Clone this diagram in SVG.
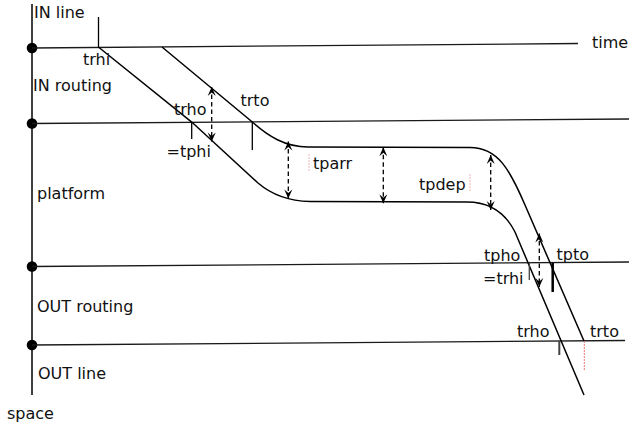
<svg xmlns="http://www.w3.org/2000/svg" width="629" height="425" viewBox="0 0 629 425">
<defs>
<style>
.ax{stroke:#000;stroke-width:1.5;fill:none}
.zl{stroke:#1a1a1a;stroke-width:1.3;fill:none}
.tr{stroke:#000;stroke-width:1.5;fill:none}
.tk{stroke:#000;stroke-width:1.3}
.tkg{stroke:#444;stroke-width:1.3}
.dim{stroke:#000;stroke-width:1.3;stroke-dasharray:4.5 3;fill:none;marker-start:url(#ah);marker-end:url(#ah)}
.pk{stroke:#e66;stroke-width:0.8;stroke-dasharray:2 1;opacity:0.6}
.dot{fill:#000}
text{font-family:"DejaVu Sans","Liberation Sans",sans-serif;font-size:16px;fill:#111}
</style>
<marker id="ah" viewBox="-10 -5 11 10" refX="0" refY="0" markerWidth="11" markerHeight="10" markerUnits="userSpaceOnUse" orient="auto-start-reverse">
<path d="M0,0 L-9,-4 L-5.5,0 L-9,4 z" fill="#000"/>
</marker>
</defs>
<g id="axis">
<line class="ax" x1="32" y1="4" x2="32" y2="395"/>
<circle class="dot" cx="32" cy="48" r="5.3"/>
<circle class="dot" cx="32" cy="123.5" r="5.3"/>
<circle class="dot" cx="32" cy="266.5" r="5.3"/>
<circle class="dot" cx="32" cy="345" r="5.3"/>
</g>
<g id="zones">
<line class="zl" x1="32" y1="48" x2="578" y2="43.5"/>
<line class="zl" x1="32" y1="123.5" x2="629" y2="119"/>
<line class="zl" x1="32" y1="266.5" x2="629" y2="262"/>
<line class="zl" x1="32" y1="345" x2="625" y2="340.5"/>
</g>
<g id="trains">
<path class="tr" d="M99,47.5 L192,122.3 L258,183 C272,195 288,201 310,201.5 L467,202 C490,202 505,212 515,232 L584,395"/>
<path class="tr" d="M162,47 L252.3,122 C268,136 285,147 308,147 L470,147.5 C498,147.5 510,170 525,205 L584,341"/>
</g>
<g id="ticks">
<line class="tk" x1="98.5" y1="17" x2="98.5" y2="48"/>
<line class="tk" x1="191.7" y1="122.3" x2="191.7" y2="139"/>
<line class="tk" x1="252.3" y1="122" x2="252.3" y2="150"/>
<line class="tkg" x1="529.3" y1="263" x2="529.3" y2="280"/>
<line class="tk" x1="552.7" y1="263" x2="552.7" y2="292" style="stroke-width:2.5"/>
<line class="tkg" x1="559.3" y1="341" x2="559.3" y2="355" style="stroke-width:2"/>
<line class="pk" x1="584.3" y1="341" x2="584.3" y2="371" style="opacity:0.9;stroke-width:1"/>
<line class="pk" x1="309" y1="154" x2="309" y2="171"/>
<line class="pk" x1="470" y1="174" x2="470" y2="192"/>
</g>
<g id="connectors">
<line class="dim" x1="211.7" y1="87" x2="211.7" y2="141.5"/>
<line class="dim" x1="288.3" y1="141.5" x2="288.3" y2="198.5"/>
<line class="dim" x1="383.3" y1="147.3" x2="383.3" y2="203.3"/>
<line class="dim" x1="490.7" y1="155" x2="490.7" y2="210"/>
<line class="dim" x1="539.3" y1="233.5" x2="539.3" y2="287"/>
</g>
<g id="labels">
<text x="34" y="18">IN line</text>
<text x="83" y="65">trhi</text>
<text x="33" y="91">IN routing</text>
<text x="174" y="115">trho</text>
<text x="240.5" y="106">trto</text>
<text x="166.5" y="157">=tphi</text>
<text x="37" y="199">platform</text>
<text x="313" y="169">tparr</text>
<text x="419" y="190">tpdep</text>
<text x="592" y="48">time</text>
<text x="484" y="260.5">tpho</text>
<text x="556.5" y="260">tpto</text>
<text x="483" y="284">=trhi</text>
<text x="37" y="311.5">OUT routing</text>
<text x="517" y="336.5">trho</text>
<text x="590" y="336.5">trto</text>
<text x="38" y="379">OUT line</text>
<text x="7" y="419">space</text>
</g>
</svg>
